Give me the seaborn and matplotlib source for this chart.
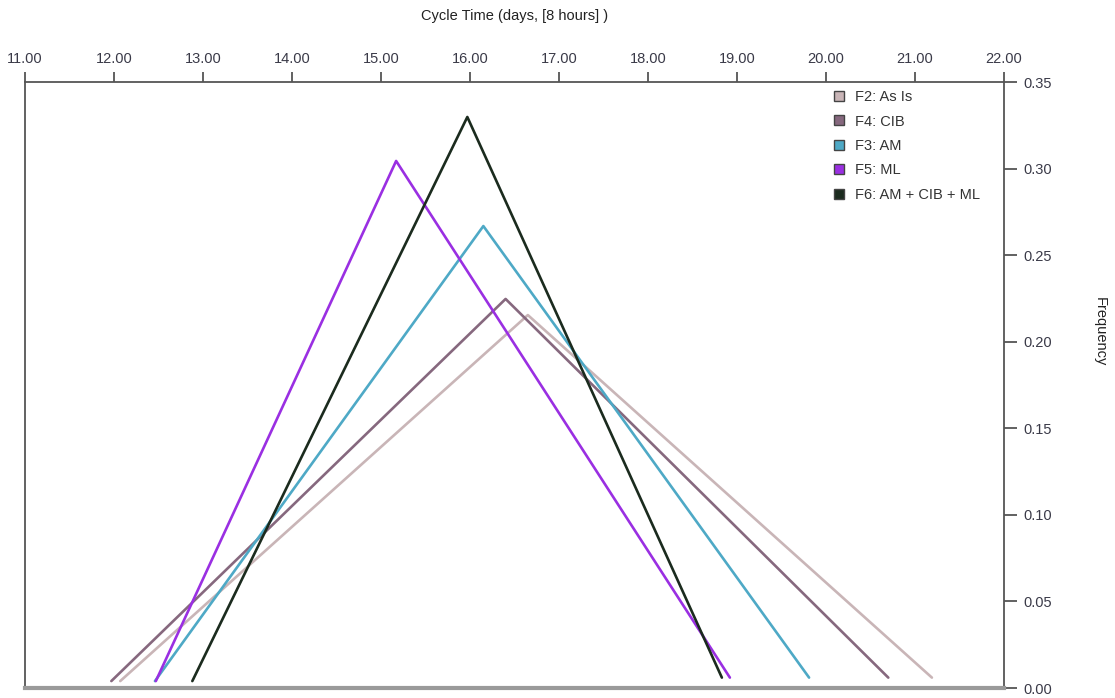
import matplotlib
matplotlib.use("Agg")
import matplotlib.pyplot as plt
import seaborn as sns
import pandas as pd
from matplotlib.lines import Line2D

series = ["F2: As Is", "F4: CIB", "F3: AM", "F5: ML", "F6: AM + CIB + ML"]
x_min = [12.07, 11.97, 12.46, 12.47, 12.88]
x_mode = [16.65, 16.40, 16.15, 15.17, 15.97]
x_max = [21.19, 20.70, 19.81, 18.92, 18.83]
y_start = [0.004, 0.004, 0.004, 0.004, 0.004]
y_peak = [0.2154, 0.2247, 0.2668, 0.3044, 0.3298]
y_stop = [0.006, 0.006, 0.006, 0.006, 0.006]
colors = ["#c9b5b7", "#86687e", "#4ea9c6", "#9a2fe2", "#1b2b1e"]

x_ticks = [11, 12, 13, 14, 15, 16, 17, 18, 19, 20, 21, 22]
y_ticks = [0.00, 0.05, 0.10, 0.15, 0.20, 0.25, 0.30, 0.35]

rows = []
for s, a, m, b, e0, p, e1 in zip(series, x_min, x_mode, x_max, y_start, y_peak, y_stop):
    for i, (xx, yy) in enumerate([(a, e0), (m, p), (b, e1)]):
        rows.append({"series": s, "order": i, "x": xx, "y": yy})
df = pd.DataFrame(rows)

sns.set_style("white")
plt.rcParams["font.family"] = ["Liberation Sans", "DejaVu Sans"]

W, H = 1115, 698
fig = plt.figure(figsize=(W / 100, H / 100), dpi=100)
L, R, T, B = 25, 1004, 82, 688
ax = fig.add_axes([L / W, 1 - B / H, (R - L) / W, (B - T) / H])

sns.lineplot(data=df, x="x", y="y", hue="series", hue_order=series,
             palette=colors, sort=False, estimator=None, units="series",
             linewidth=1.9, ax=ax, legend=False)

ax.set_xlim(11, 22)
ax.set_ylim(0, 0.35)
ax.set_xticks(x_ticks)
ax.set_xticklabels([f"{v:.2f}" for v in x_ticks])
ax.set_yticks(y_ticks)
ax.set_yticklabels([f"{v:.2f}" for v in y_ticks])

ax.xaxis.tick_top()
ax.xaxis.set_label_position("top")
ax.yaxis.tick_right()
ax.yaxis.set_label_position("right")

tick_color = "#3a3a48"
ax.tick_params(axis="x", direction="out", length=7.2, width=1.3, color="#555555",
               labelsize=10.5, labelcolor=tick_color, pad=4.3)
ax.tick_params(axis="y", direction="out", length=9.4, width=1.3, color="#555555",
               labelsize=10.5, labelcolor=tick_color, pad=4.3)

ax.set_xlabel("Cycle Time (days, [8 hours] )", fontsize=10.5, color="#222222")
ax.xaxis.set_label_coords(0.5, (B - 16) / (B - T), transform=ax.transAxes)
ax.xaxis.label.set_va("center")
ax.set_ylabel("Frequency", fontsize=10.5, color="#222222", rotation=270)
ax.yaxis.set_label_coords((1100 - L) / (R - L), (B - 332) / (B - T), transform=ax.transAxes)
ax.yaxis.label.set_va("center")

for side in ["top", "left", "right"]:
    ax.spines[side].set_visible(True)
    ax.spines[side].set_color("#555555")
    ax.spines[side].set_linewidth(1.3)
ax.spines["bottom"].set_visible(True)
ax.spines["bottom"].set_color("#9a9a9a")
ax.spines["bottom"].set_linewidth(3)

handles = [Line2D([0], [0], marker="s", linestyle="none", markersize=6.5,
                  markerfacecolor=c, markeredgecolor="#444444", markeredgewidth=1)
           for c in colors]
leg = ax.legend(handles, series, loc="upper left",
                bbox_to_anchor=(832 / W, 1 - 90 / H), bbox_transform=fig.transFigure,
                frameon=False, fontsize=10.5, handletextpad=0.55, labelspacing=0.72,
                handlelength=1.0, borderaxespad=0, borderpad=0)
for t in leg.get_texts():
    t.set_color("#333333")

fig.savefig("out.png", dpi=100)
